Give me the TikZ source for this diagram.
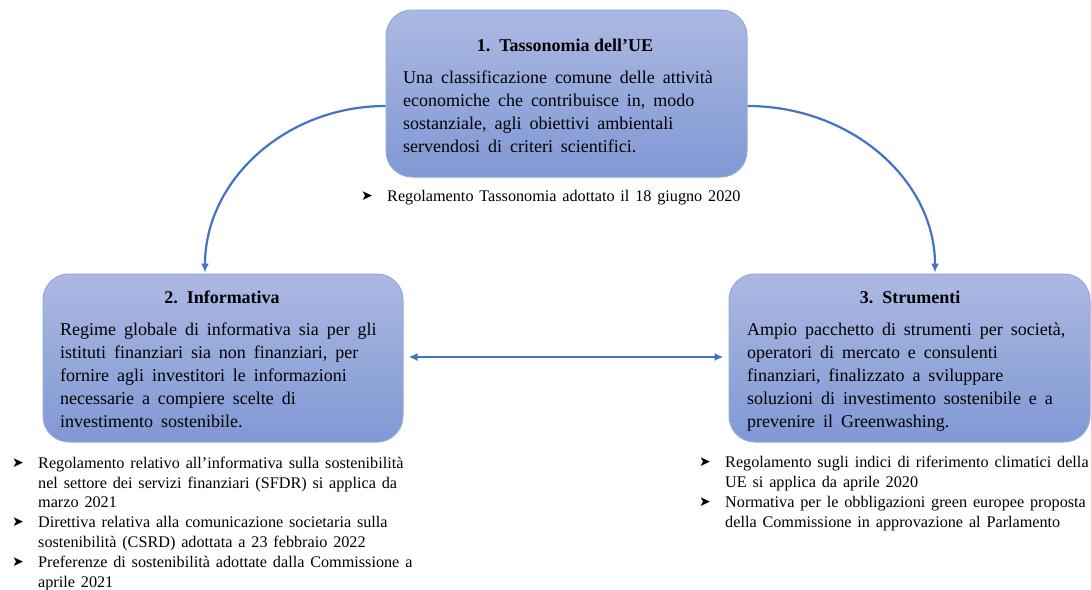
\documentclass[tikz,border=0pt]{standalone}
\usepackage{fontspec}
\setmainfont{Liberation Serif}
\newfontfamily\dejavu{DejaVu Sans}
\usetikzlibrary{arrows.meta,calc}
\definecolor{boxtop}{RGB}{172,185,226}
\definecolor{boxbot}{RGB}{128,152,212}
\definecolor{boxline}{RGB}{143,170,220}
\definecolor{arrblue}{RGB}{68,114,196}
\newcommand{\bodyfnt}{\fontsize{18}{23}\selectfont\spaceskip=0.44em plus 0.1em\relax}
\newcommand{\bulfnt}{\fontsize{16.2}{20}\selectfont\spaceskip=0.36em plus 0.1em\relax}
\newcommand{\ttlfnt}{\fontsize{18}{23}\selectfont\bfseries}
\begin{document}
\begin{tikzpicture}[x=1pt,y=-1pt,
 box/.style={draw=boxline, line width=1pt, rounded corners=26pt, top color=boxtop, bottom color=boxbot, inner sep=0pt},
 ttl/.style={anchor=base, inner sep=0pt, font=\ttlfnt},
 body/.style={anchor=base west, inner sep=0pt, font=\bodyfnt},
 bul/.style={anchor=base west, inner sep=0pt, font=\bulfnt},
 bmark/.style={anchor=center, inner sep=0pt, font=\dejavu\fontsize{14}{14}\selectfont},
 conn/.style={draw=arrblue, line width=2.2pt, -{Latex[length=9pt,width=8pt]}},
 dconn/.style={draw=arrblue, line width=2.2pt, {Latex[length=9pt,width=8pt]}-{Latex[length=9pt,width=8pt]}},
]
\useasboundingbox (0,0) rectangle (1091,589);

% boxes
\node[box, minimum width=361pt, minimum height=167pt] (b1) at (566.5,93.5) {};
\node[box, minimum width=360pt, minimum height=168pt] (b2) at (223,358) {};
\node[box, minimum width=361pt, minimum height=168pt] (b3) at (909.5,358) {};

% box 1 text
\node[ttl] (t1) at (565,51) {1.\hspace{9pt}Tassonomia dell’UE};
\node[body] (t1a) at (403,83) {Una classificazione comune delle attività};
\node[body] (t1b) at (403,106) {economiche che contribuisce in, modo};
\node[body] (t1c) at (403,129) {sostanziale, agli obiettivi ambientali};
\node[body] (t1d) at (403,152) {servendosi di criteri scientifici.};

% box 2 text
\node[ttl] (t2) at (222,303) {2.\hspace{9pt}Informativa};
\node[body] (t2a) at (60,335) {Regime globale di informativa sia per gli};
\node[body] (t2b) at (60,358) {istituti finanziari sia non finanziari, per};
\node[body] (t2c) at (60,381) {fornire agli investitori le informazioni};
\node[body] (t2d) at (60,404) {necessarie a compiere scelte di};
\node[body] (t2e) at (60,427) {investimento sostenibile.};

% box 3 text
\node[ttl] (t3) at (910,303) {3.\hspace{9pt}Strumenti};
\node[body] (t3a) at (747,335) {Ampio pacchetto di strumenti per società,};
\node[body] (t3b) at (747,358) {operatori di mercato e consulenti};
\node[body] (t3c) at (747,381) {finanziari, finalizzato a sviluppare};
\node[body] (t3d) at (747,404) {soluzioni di investimento sostenibile e a};
\node[body] (t3e) at (747,427) {prevenire il Greenwashing.};

% bullet under box 1
\node[bmark] (m1) at (367,196) {➤};
\node[bul] (u1) at (387,201) {Regolamento Tassonomia adottato il 18 giugno 2020};

% bullets under box 2
\node[bmark] (m2a) at (18,463) {➤};
\node[bul] (u2a) at (38,468) {Regolamento relativo all’informativa sulla sostenibilità};
\node[bul] (u2b) at (38,488) {nel settore dei servizi finanziari (SFDR) si applica da};
\node[bul] (u2c) at (38,507) {marzo 2021};
\node[bmark] (m2b) at (18,522) {➤};
\node[bul] (u2d) at (38,527) {Direttiva relativa alla comunicazione societaria sulla};
\node[bul] (u2e) at (38,547) {sostenibilità (CSRD) adottata a 23 febbraio 2022};
\node[bmark] (m2c) at (18,562) {➤};
\node[bul] (u2f) at (38,567) {Preferenze di sostenibilità adottate dalla Commissione a};
\node[bul] (u2g) at (38,587) {aprile 2021};

% bullets under box 3
\node[bmark] (m3a) at (705,462) {➤};
\node[bul] (u3a) at (725,467) {Regolamento sugli indici di riferimento climatici della};
\node[bul] (u3b) at (725,487) {UE si applica da aprile 2020};
\node[bmark] (m3b) at (705,502) {➤};
\node[bul] (u3c) at (725,507) {Normativa per le obbligazioni green europee proposta};
\node[bul] (u3d) at (725,527) {della Commissione in approvazione al Parlamento};

% connectors
\coordinate (s1) at ([yshift=-12.5pt]b1.west);
\coordinate (s2) at ([yshift=-12.5pt]b1.east);
\coordinate (e1) at ([xshift=-18pt,yshift=1pt]b2.north);
\coordinate (e2) at ([xshift=25.5pt,yshift=1pt]b3.north);
\draw[conn] (s1) .. controls +(-100,0) and +(0,-92) .. (e1);
\draw[conn] (s2) .. controls +(104,0) and +(0,-92) .. (e2);
\draw[dconn, shorten <=5pt, shorten >=5pt] ([yshift=1pt]b2.east) -- ([yshift=1pt]b3.west);
\end{tikzpicture}
\end{document}
